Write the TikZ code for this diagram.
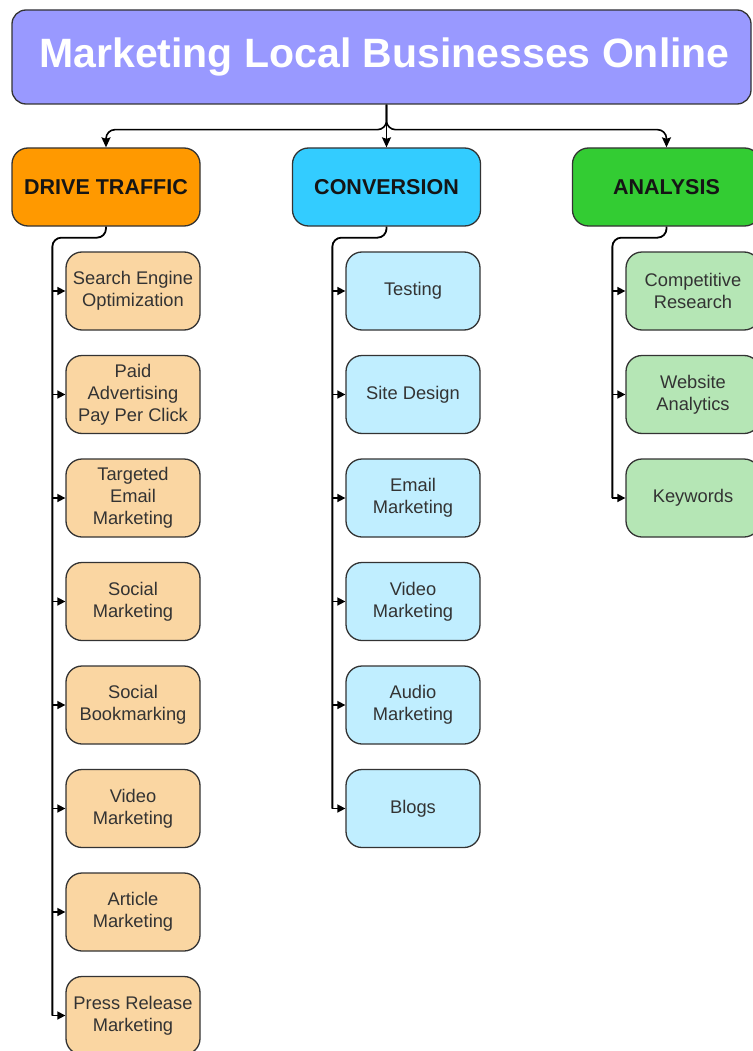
\documentclass[tikz,border=0pt]{standalone}
\usepackage{fontspec}
\setmainfont{Liberation Sans}
\usetikzlibrary{arrows.meta,calc}
\definecolor{titlebg}{HTML}{9999FF}
\definecolor{drivebg}{HTML}{FF9900}
\definecolor{convbg}{HTML}{33CCFF}
\definecolor{anabg}{HTML}{33CC33}
\definecolor{drivelt}{HTML}{FAD6A2}
\definecolor{convlt}{HTML}{C0EEFF}
\definecolor{analt}{HTML}{B5E6B5}
\definecolor{boxline}{HTML}{333333}
\definecolor{hdrtext}{HTML}{151515}
\definecolor{childtext}{HTML}{333333}
\begin{document}
\begin{tikzpicture}[x=1pt,y=-1pt,
  box/.style={draw=boxline, line width=1.3pt, rounded corners=16pt, inner sep=0pt, align=center},
  titlebox/.style={box, fill=titlebg, minimum width=739pt, minimum height=94pt, rounded corners=14pt,
    font=\fontsize{41}{48}\selectfont\bfseries, text=white},
  hdr/.style={box, minimum width=188pt, minimum height=78pt, font=\fontsize{21.5}{26}\selectfont\bfseries, text=hdrtext},
  child/.style={box, minimum width=134pt, minimum height=78pt, font=\fontsize{18.3}{22}\selectfont, text=childtext},
  dchild/.style={child, fill=drivelt},
  cchild/.style={child, fill=convlt},
  achild/.style={child, fill=analt},
  conn/.style={line width=1.8pt, draw=black, rounded corners=9pt},
  toparr/.style={line width=1.6pt, draw=black, -{Stealth[length=10pt,width=9pt,inset=1.5pt]}},
  subarr/.style={line width=1.6pt, draw=black, -{Triangle[length=8pt,width=8pt]}}
]
\useasboundingbox (0,0) rectangle (752,1051);
\fill[white] (0,0) rectangle (752,1051);

% title
\node[titlebox] (title) at (381.5,57) {\hspace*{6pt}Marketing Local Businesses Online};

% headers
\node[hdr, fill=drivebg] (drive) at (106,187) {DRIVE TRAFFIC};
\node[hdr, fill=convbg] (conv) at (386.5,187) {CONVERSION};
\node[hdr, fill=anabg] (ana) at (666.5,187) {ANALYSIS};

% drive traffic children
\node[dchild] (d1) at (133,291) {Search Engine\\Optimization};
\node[dchild] (d2) at (133,394.5) {Paid\\Advertising\\Pay Per Click};
\node[dchild] (d3) at (133,498) {Targeted\\Email\\Marketing};
\node[dchild] (d4) at (133,601.5) {Social\\Marketing};
\node[dchild] (d5) at (133,705) {Social\\Bookmarking};
\node[dchild] (d6) at (133,808.5) {Video\\Marketing};
\node[dchild] (d7) at (133,912) {Article\\Marketing};
\node[dchild] (d8) at (133,1015.5) {Press Release\\Marketing};

% conversion children
\node[cchild] (c1) at (413,291) {Testing};
\node[cchild] (c2) at (413,394.5) {Site Design};
\node[cchild] (c3) at (413,498) {Email\\Marketing};
\node[cchild] (c4) at (413,601.5) {Video\\Marketing};
\node[cchild] (c5) at (413,705) {Audio\\Marketing};
\node[cchild] (c6) at (413,808.5) {Blogs};

% analysis children
\node[achild] (a1) at (693,291) {Competitive\\Research};
\node[achild] (a2) at (693,394.5) {Website\\Analytics};
\node[achild] (a3) at (693,498) {Keywords};

% top connectors
\coordinate (split) at (conv.north |- title.south);
\draw[toparr] (split) -- (conv.north);
\draw[toparr, rounded corners=9pt] (split) -- ++(0,25) -| (drive.north);
\draw[toparr, rounded corners=9pt] (split) -- ++(0,25) -| (ana.north);

% drive traffic spine
\draw[conn] (drive.south) -- ++(0,11) -| ([xshift=-13pt]d8.west);
\foreach \n in {d1,d2,d3,d4,d5,d6,d7,d8}
  \draw[subarr] ([xshift=-13pt]\n.west) -- (\n.west);

% conversion spine
\draw[conn] (conv.south) -- ++(0,11) -| ([xshift=-13pt]c6.west);
\foreach \n in {c1,c2,c3,c4,c5,c6}
  \draw[subarr] ([xshift=-13pt]\n.west) -- (\n.west);

% analysis spine
\draw[conn] (ana.south) -- ++(0,11) -| ([xshift=-13pt]a3.west);
\foreach \n in {a1,a2,a3}
  \draw[subarr] ([xshift=-13pt]\n.west) -- (\n.west);
\end{tikzpicture}
\end{document}
